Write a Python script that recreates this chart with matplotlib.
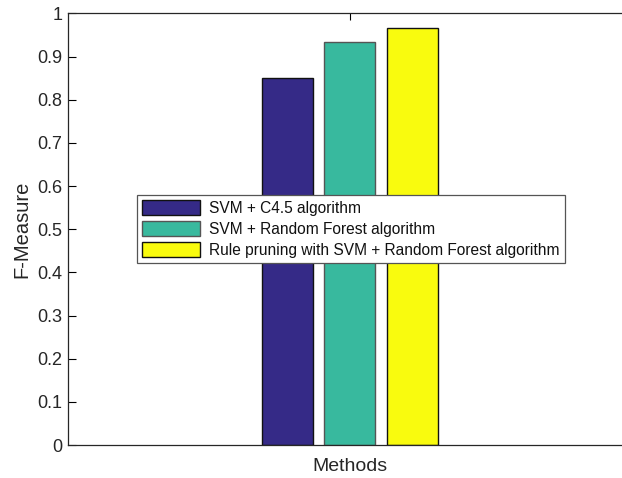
import matplotlib
matplotlib.use("Agg")
import matplotlib.pyplot as plt
import numpy as np

plt.rcParams['font.family'] = ['Liberation Sans', 'DejaVu Sans']

series = ["SVM + C4.5 algorithm",
          "SVM + Random Forest algorithm",
          "Rule pruning with SVM + Random Forest algorithm"]
values = [0.851, 0.934, 0.966]
colors = ["#352a87", "#38b99e", "#f9fb0e"]
edges = ["#111111", "#555555", "#111111"]
yticks = [0, 0.1, 0.2, 0.3, 0.4, 0.5, 0.6, 0.7, 0.8, 0.9, 1]
ytick_labels = ["0", "0.1", "0.2", "0.3", "0.4", "0.5", "0.6", "0.7", "0.8", "0.9", "1"]

fig = plt.figure(figsize=(6.22, 4.78), dpi=100)
ax = fig.add_axes([68/622, 1-445/478, (631.5-68)/622, (445-13.5)/478])

offset = 0.2222
width = 0.18
for i, (v, c, e, s) in enumerate(zip(values, colors, edges, series)):
    ax.bar(1 + (i-1)*offset, v, width=width, color=c, edgecolor=e, linewidth=1.0, label=s)

ax.set_xlim(0, 2)
ax.set_ylim(0, 1)
ax.set_yticks(yticks)
ax.set_yticklabels(ytick_labels, fontsize=13, color="#262626")
ax.set_xticks([1])
ax.set_xticklabels([""])
ax.tick_params(axis='y', direction='in', length=6, width=0.8, right=False, pad=4)
ax.tick_params(axis='x', direction='in', length=5, width=0.8, top=True, bottom=False)
for sp in ax.spines.values():
    sp.set_linewidth(0.9)
    sp.set_color("#262626")
ax.set_ylabel("F-Measure", fontsize=14.5, color="#262626", labelpad=4)
ax.set_xlabel("Methods", fontsize=14, color="#262626", labelpad=6)

leg = ax.legend(loc='upper left', bbox_to_anchor=((137-68)/(631.5-68), (445-195)/(445-13.5)),
                fontsize=11.2, frameon=True, fancybox=False, handlelength=3.7, handleheight=1.05,
                handletextpad=0.55, borderpad=0.35, labelspacing=0.35, borderaxespad=0,
                framealpha=1)
leg.get_frame().set_edgecolor("#555555")
leg.get_frame().set_linewidth(0.9)
for t in leg.get_texts():
    t.set_color("#111111")

fig.savefig("out.png", dpi=100)
